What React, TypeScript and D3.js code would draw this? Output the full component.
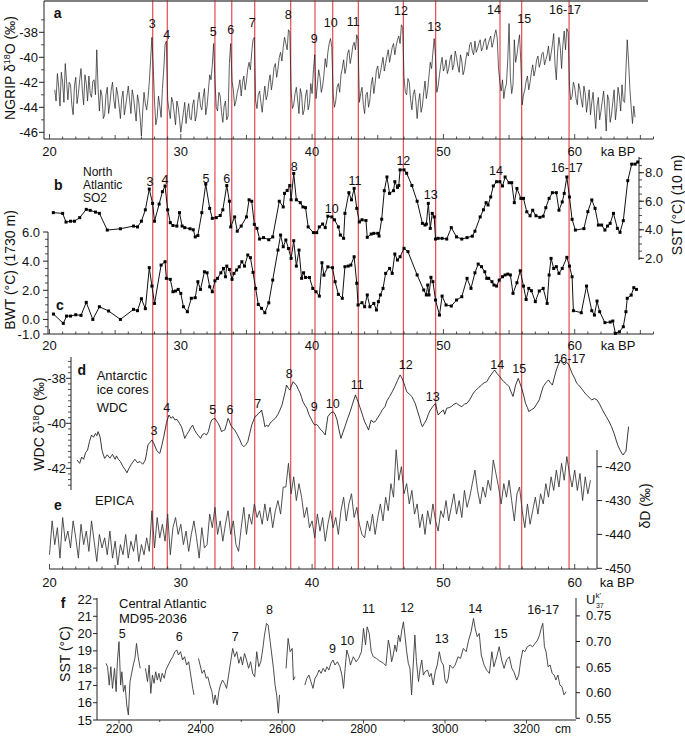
import React from 'react';
import * as d3 from 'd3';

const W = 685, H = 736;
const FONT = "'Liberation Sans', Arial, Helvetica, sans-serif";

// ---------- DATA ----------
const EVENTS = ['3', '4', '5', '6', '7', '8', '9', '10', '11', '12', '13', '14', '15', '16-17'];
const EVENT_AGES = [27.86, 28.97, 32.6, 33.88, 35.63, 38.37, 40.22, 41.57, 43.52, 46.95, 49.41, 54.31, 55.96, 59.57];
const AGE_TICKS = [20, 30, 40, 50, 60];

// NGRIP d18O, evenly sampled from 20.4 ka every 0.1 ka (rows of 20 = 2 ka)
const NGRIP_START = 20.4, NGRIP_STEP = 0.1;
const NGRIP_D18O = [
  -42.6, -43.5, -41.3, -42.4, -43.9, -41.2, -42.0, -43.6, -40.5, -41.9, -43.4, -42.0, -42.2, -43.8, -44.6, -42.3, -41.6, -43.7, -42.9, -41.8,
  -40.9, -42.6, -43.8, -41.4, -42.1, -43.5, -41.5, -42.9, -43.2, -41.9, -41.8, -43.0, -39.4, -42.5, -44.3, -42.6, -43.1, -44.9, -44.6, -43.0,
  -42.4, -44.5, -43.7, -42.6, -42.0, -43.4, -44.1, -42.4, -43.0, -43.9, -44.9, -43.3, -42.7, -44.6, -43.9, -43.1, -42.3, -43.4, -44.5, -42.6,
  -43.2, -44.2, -45.1, -43.0, -43.6, -44.8, -46.3, -44.3, -42.8, -43.7, -44.2, -43.3, -42.0, -40.2, -38.4, -40.8, -43.6, -45.4, -44.8, -43.1,
  -43.9, -44.8, -42.5, -41.0, -39.0, -38.7, -43.4, -44.2, -44.9, -43.2, -43.6, -44.5, -45.4, -43.5, -44.0, -44.9, -46.0, -45.2, -44.4, -43.6,
  -45.3, -44.4, -43.7, -44.9, -45.0, -43.8, -43.4, -45.1, -44.6, -43.5, -42.8, -43.9, -44.2, -43.2, -42.5, -44.6, -43.9, -42.7, -41.4, -41.8,
  -40.6, -38.9, -41.8, -44.0, -44.3, -42.8, -43.1, -44.4, -45.2, -43.9, -43.5, -45.0, -44.7, -40.5, -38.9, -41.9, -42.6, -43.9, -43.5, -42.8,
  -42.4, -41.8, -43.1, -42.0, -41.5, -42.6, -41.9, -40.9, -40.4, -41.0, -39.6, -38.6, -38.4, -43.5, -44.1, -43.0, -42.7, -43.6, -44.4, -43.2,
  -42.3, -43.4, -43.0, -42.0, -41.4, -42.6, -41.9, -40.8, -40.5, -41.6, -40.9, -40.0, -39.6, -40.3, -39.2, -38.4, -38.9, -39.4, -37.8, -38.0,
  -42.6, -44.1, -43.8, -42.9, -42.4, -43.4, -44.5, -42.5, -43.0, -44.6, -44.2, -43.1, -42.6, -44.2, -43.7, -42.1, -42.9, -41.0, -39.8, -43.3,
  -42.2, -41.0, -41.6, -42.8, -42.3, -41.4, -40.1, -40.8, -39.6, -38.9, -38.5, -39.2, -42.9, -44.0, -43.5, -42.4, -42.1, -42.8, -41.4, -40.9,
  -40.2, -41.3, -40.8, -39.7, -39.4, -40.5, -39.9, -39.1, -38.8, -39.4, -38.2, -38.6, -43.6, -42.9, -42.4, -43.8, -44.5, -43.0, -42.8, -44.0,
  -43.4, -42.2, -41.6, -42.9, -42.1, -41.0, -40.7, -41.7, -41.2, -40.6, -40.0, -41.1, -40.5, -39.9, -39.4, -40.4, -39.8, -39.2, -38.9, -39.8,
  -39.1, -38.6, -38.3, -38.9, -37.4, -37.6, -41.6, -42.8, -43.0, -41.7, -42.0, -43.4, -44.2, -43.0, -42.6, -43.5, -44.9, -43.6, -42.9, -44.4,
  -43.9, -42.8, -41.9, -43.3, -42.6, -41.5, -40.4, -40.9, -39.6, -38.5, -40.0, -42.8, -42.3, -41.4, -40.6, -40.0, -41.1, -40.8, -40.2, -41.3,
  -40.9, -40.2, -39.8, -41.0, -40.6, -39.5, -40.0, -40.7, -41.2, -39.8, -40.3, -41.4, -41.0, -40.2, -39.6, -39.9, -39.0, -38.8, -39.5, -39.8,
  -38.7, -39.6, -39.3, -38.9, -38.6, -39.5, -39.2, -38.7, -38.5, -39.4, -39.0, -38.6, -38.3, -39.2, -38.8, -38.2, -37.8, -38.5, -40.9, -42.0,
  -42.7, -41.8, -43.3, -42.5, -42.1, -40.2, -37.3, -41.6, -42.9, -42.2, -38.6, -40.4, -39.8, -38.9, -38.2, -40.5, -43.8, -43.0, -42.6, -41.9,
  -41.5, -42.6, -42.0, -41.2, -40.6, -41.5, -41.0, -40.2, -39.9, -40.8, -40.4, -39.7, -39.6, -40.6, -40.2, -39.8, -39.1, -40.3, -39.7, -39.0,
  -38.1, -40.6, -41.8, -39.5, -38.4, -39.2, -40.9, -39.0, -37.9, -39.4, -37.7, -38.0, -42.3, -43.4, -43.1, -42.0, -42.4, -43.3, -43.8, -42.1,
  -42.6, -43.4, -44.0, -42.3, -42.9, -44.4, -43.5, -42.6, -44.6, -43.6, -42.8, -44.4, -45.7, -43.9, -43.2, -45.0, -44.3, -43.5, -42.7, -44.1,
  -45.9, -43.0, -43.4, -45.2, -44.6, -43.6, -42.6, -45.0, -44.0, -42.4, -43.1, -44.3, -42.2, -43.5, -43.6, -41.0, -38.6, -40.3, -42.5, -44.0,
  -45.3, -43.9, -44.8,
];

// North Atlantic SO2 SST (10 m), [ka, degC]
const SO2_SST: [number, number][] = [
  [20.29, 5.2], [21.0, 5.15], [21.26, 4.54], [21.6, 4.6], [21.9, 4.6], [22.3, 4.85], [22.8, 5.43], [23.1, 5.36],
  [23.5, 5.24], [23.8, 5.15], [24.4, 3.98], [25.4, 4.07], [26.4, 4.26], [26.7, 4.2], [27.0, 4.6], [27.3, 5.4],
  [27.6, 6.85], [27.85, 5.85], [28.0, 4.6], [28.35, 5.8], [28.6, 6.67], [28.8, 7.07], [29.0, 5.4], [29.2, 4.5],
  [29.4, 4.3], [29.7, 4.26], [29.9, 5.2], [30.1, 4.26], [30.3, 4.15], [30.7, 4.07], [30.95, 4.0], [31.1, 3.5],
  [31.3, 3.6], [31.6, 5.2], [31.9, 7.2], [32.2, 5.5], [32.4, 4.8], [32.7, 4.85], [33.0, 5.0], [33.2, 5.4],
  [33.5, 7.1], [33.7, 6.0], [33.8, 4.2], [34.1, 4.9], [34.3, 3.9], [34.6, 4.26], [35.0, 4.9], [35.2, 6.1],
  [35.4, 6.0], [35.6, 4.38], [35.8, 4.1], [36.0, 3.35], [36.3, 3.45], [36.7, 3.3], [37.0, 3.5], [37.5, 6.0],
  [37.8, 5.6], [37.9, 6.55], [38.1, 6.75], [38.3, 7.1], [38.4, 6.1], [38.6, 7.95], [38.8, 6.1], [39.1, 5.9],
  [39.3, 5.6], [39.5, 5.55], [39.7, 4.2], [40.1, 3.8], [40.35, 3.8], [40.55, 4.2], [40.8, 4.4], [41.0, 4.15],
  [41.2, 4.95], [41.5, 4.9], [41.7, 4.7], [42.0, 4.2], [42.15, 3.63], [42.4, 3.4], [42.5, 5.15], [42.8, 6.6],
  [43.0, 6.1], [43.2, 6.9], [43.4, 5.5], [43.6, 4.55], [43.8, 4.7], [44.1, 4.65], [44.2, 3.47], [44.5, 3.7],
  [44.7, 3.75], [45.0, 3.75], [45.1, 3.56], [45.3, 4.74], [45.5, 6.74], [45.7, 7.7], [45.9, 6.55], [46.2, 6.74],
  [46.3, 7.37], [46.5, 6.97], [46.6, 7.1], [46.7, 8.2], [47.0, 8.2], [47.2, 7.96], [47.6, 7.1], [48.0, 6.0],
  [48.4, 4.45], [48.6, 4.33], [48.7, 4.4], [48.85, 5.85], [49.0, 4.1], [49.15, 5.15], [49.3, 4.9], [49.4, 3.35],
  [49.6, 3.4], [49.9, 3.4], [50.25, 3.35], [50.6, 4.15], [51.0, 3.5], [51.4, 3.35], [51.8, 3.45], [52.2, 3.55],
  [52.4, 3.9], [52.8, 4.9], [53.05, 5.4], [53.25, 5.9], [53.4, 5.74], [53.6, 6.3], [53.8, 7.07], [54.05, 7.37],
  [54.3, 7.37], [54.5, 7.07], [54.7, 7.7], [55.0, 7.3], [55.2, 7.3], [55.4, 5.9], [55.6, 6.9], [55.9, 6.2],
  [56.1, 6.2], [56.35, 5.26], [56.6, 4.98], [56.8, 5.37], [57.05, 4.98], [57.35, 4.87], [57.6, 4.95], [57.8, 5.55],
  [58.05, 6.2], [58.3, 6.6], [58.6, 6.6], [58.8, 5.37], [59.05, 5.95], [59.2, 6.55], [59.4, 7.7], [59.6, 6.3],
  [59.8, 4.73], [60.05, 3.98], [60.7, 4.08], [61.0, 5.27], [61.3, 6.09], [61.55, 5.5], [61.8, 4.33], [62.05, 4.33],
  [62.3, 3.98], [62.5, 4.26], [62.7, 4.45], [62.95, 5.15], [63.25, 4.1], [63.45, 3.82], [63.7, 4.64], [64.04, 7.44],
  [64.34, 8.6], [64.6, 8.6], [64.8, 8.75],
];

// SO2 bottom water temperature (1730 m), [ka, degC]
const SO2_BWT: [number, number][] = [
  [20.3, 0.37], [21.05, -0.27], [21.3, 0.23], [21.6, 0.23], [22.0, 0.32], [22.4, 0.28], [22.8, 1.17], [23.3, 0.0],
  [23.8, 0.87], [24.5, 0.58], [25.4, 0.0], [26.4, 0.69], [26.7, 0.6], [27.0, 1.42], [27.3, 0.74], [27.6, 3.55],
  [27.8, 2.29], [28.0, 1.1], [28.5, 3.73], [28.8, 3.96], [28.9, 2.82], [29.2, 2.75], [29.4, 1.9], [29.6, 1.95],
  [29.8, 2.06], [30.0, 1.79], [30.2, 0.87], [30.5, 0.53], [30.8, 1.45], [31.1, 1.49], [31.3, 2.59], [31.5, 2.06],
  [31.8, 3.27], [32.0, 3.2], [32.2, 2.24], [32.4, 1.9], [32.6, 2.65], [32.8, 2.82], [33.05, 3.2], [33.25, 3.5],
  [33.4, 2.93], [33.5, 3.66], [33.7, 3.43], [33.9, 2.75], [34.05, 3.16], [34.25, 3.39], [34.45, 3.61], [34.65, 3.96],
  [34.85, 3.66], [35.1, 4.42], [35.3, 4.24], [35.5, 3.23], [35.7, 2.13], [35.9, 1.03], [36.15, 0.76], [36.4, 0.46],
  [36.7, 1.14], [37.0, 2.7], [37.4, 4.76], [37.6, 5.79], [37.8, 4.99], [38.0, 5.45], [38.2, 4.87], [38.4, 4.19],
  [38.6, 5.4], [38.8, 3.66], [39.0, 4.76], [39.2, 2.82], [39.35, 3.2], [39.5, 2.88], [39.8, 2.88], [40.05, 2.13],
  [40.3, 1.9], [40.55, 1.6], [40.75, 3.89], [40.9, 3.04], [41.2, 3.61], [41.55, 3.55], [41.75, 2.59], [42.0, 1.72],
  [42.3, 1.45], [42.5, 3.62], [42.75, 3.66], [42.95, 3.73], [43.2, 4.3], [43.4, 2.48], [43.5, 0.99], [43.8, 1.15],
  [44.0, 0.87], [44.2, 1.68], [44.4, 0.87], [44.7, 1.1], [44.9, 0.65], [45.05, 1.22], [45.2, 1.68], [45.4, 2.13],
  [45.6, 3.16], [45.9, 3.5], [46.1, 3.16], [46.3, 4.49], [46.5, 4.08], [46.7, 4.3], [47.0, 4.88], [47.3, 4.65],
  [48.0, 3.05], [48.5, 2.02], [48.7, 1.68], [48.8, 2.36], [48.9, 1.68], [49.05, 2.89], [49.2, 2.59], [49.4, 1.33],
  [49.7, 0.3], [49.9, 1.6], [50.2, 0.99], [50.6, 0.92], [51.0, 1.33], [51.4, 1.56], [51.8, 2.82], [52.1, 2.13],
  [52.4, 3.2], [52.65, 3.8], [52.9, 3.62], [53.15, 3.27], [53.3, 2.82], [53.45, 2.82], [53.7, 2.59], [53.85, 2.36],
  [54.05, 2.29], [54.25, 2.7], [54.5, 2.93], [54.7, 3.05], [54.9, 3.11], [55.1, 3.05], [55.3, 1.79], [55.6, 2.52],
  [55.85, 3.34], [56.1, 2.29], [56.3, 1.37], [56.5, 2.13], [56.7, 1.97], [57.0, 1.22], [57.3, 1.95], [57.6, 2.13],
  [57.9, 1.1], [58.05, 3.05], [58.2, 4.19], [58.4, 3.5], [58.6, 3.62], [58.8, 3.16], [59.05, 3.5], [59.4, 4.26],
  [59.6, 3.66], [59.8, 2.93], [59.9, 0.6], [60.5, 0.46], [60.9, 2.29], [61.3, 0.6], [61.5, 0.3], [61.7, 1.26],
  [61.9, 0.53], [62.3, -0.22], [62.7, -0.18], [62.9, -0.11], [63.1, -0.96], [63.4, -0.85], [63.7, -0.5], [63.9, 0.53],
  [64.0, 1.45], [64.3, 1.67], [64.5, 2.18], [64.7, 2.06],
];

// WDC d18O, [ka, permil]
const WDC_D18O: [number, number][] = [
  [22.1, -41.63], [22.3, -41.78], [22.45, -41.5], [22.6, -41.6], [22.75, -41.3], [22.9, -41.19], [23.05, -40.8], [23.2, -40.52],
  [23.35, -40.62], [23.5, -40.45], [23.6, -40.55], [23.7, -40.37], [23.85, -40.6], [24.0, -41.2], [24.1, -41.4], [24.2, -41.56],
  [24.4, -41.4], [24.6, -41.55], [24.8, -41.38], [25.0, -41.6], [25.1, -41.45], [25.25, -41.6], [25.4, -41.7], [25.6, -41.93],
  [25.75, -42.05], [25.9, -42.2], [26.05, -42.0], [26.2, -41.85], [26.35, -41.72], [26.5, -41.6], [26.7, -41.75], [26.9, -41.7],
  [27.1, -41.82], [27.3, -41.63], [27.4, -41.3], [27.5, -40.96], [27.65, -40.85], [27.8, -40.74], [27.95, -40.9], [28.15, -41.19],
  [28.3, -41.3], [28.4, -41.34], [28.55, -41.0], [28.7, -40.6], [28.8, -40.3], [28.9, -40.0], [29.0, -39.8], [29.1, -39.63],
  [29.25, -39.78], [29.4, -39.7], [29.55, -39.85], [29.7, -39.82], [29.9, -40.0], [30.05, -40.15], [30.2, -40.45], [30.3, -40.67],
  [30.45, -40.5], [30.6, -40.37], [30.75, -40.2], [30.9, -40.08], [31.05, -40.3], [31.2, -40.45], [31.35, -40.55], [31.5, -40.67],
  [31.65, -40.5], [31.8, -40.45], [31.95, -40.52], [32.1, -40.37], [32.25, -40.0], [32.35, -39.85], [32.5, -39.8], [32.6, -39.78],
  [32.75, -39.92], [32.85, -40.0], [33.0, -40.2], [33.1, -40.37], [33.25, -40.32], [33.35, -40.3], [33.5, -40.0], [33.6, -39.78],
  [33.7, -39.9], [33.8, -40.08], [33.95, -40.2], [34.1, -40.3], [34.3, -40.5], [34.5, -40.74], [34.65, -40.95], [34.8, -41.04],
  [34.95, -40.95], [35.1, -40.82], [35.25, -40.45], [35.4, -40.08], [35.55, -39.85], [35.65, -39.7], [35.8, -39.65], [35.9, -39.56],
  [36.05, -39.5], [36.15, -39.41], [36.3, -39.8], [36.4, -40.15], [36.55, -40.08], [36.65, -40.15], [36.8, -40.0], [36.9, -39.93],
  [37.05, -39.85], [37.2, -39.78], [37.4, -39.6], [37.55, -39.41], [37.7, -39.2], [37.8, -38.96], [37.95, -38.6], [38.05, -38.3],
  [38.2, -38.45], [38.3, -38.52], [38.45, -38.3], [38.55, -38.15], [38.7, -38.25], [38.8, -38.3], [38.95, -38.5], [39.1, -38.67],
  [39.2, -38.85], [39.3, -39.04], [39.45, -39.2], [39.6, -39.33], [39.75, -39.6], [39.9, -39.78], [40.05, -39.95], [40.2, -40.08],
  [40.35, -40.05], [40.5, -40.15], [40.6, -40.25], [40.7, -40.3], [40.85, -40.4], [41.0, -40.52], [41.1, -40.1], [41.2, -39.7],
  [41.4, -39.55], [41.6, -39.48], [41.75, -39.6], [41.9, -39.85], [42.05, -40.3], [42.2, -40.67], [42.35, -40.4], [42.5, -40.15],
  [42.7, -39.8], [42.9, -39.48], [43.1, -39.1], [43.3, -38.74], [43.4, -38.9], [43.5, -39.04], [43.65, -39.3], [43.8, -39.56],
  [43.9, -39.75], [44.0, -39.93], [44.15, -40.1], [44.3, -40.3], [44.4, -40.05], [44.5, -39.85], [44.65, -39.95], [44.8, -39.93],
  [45.0, -39.75], [45.2, -39.56], [45.35, -39.4], [45.55, -39.26], [45.7, -39.0], [45.9, -38.81], [46.1, -38.6], [46.3, -38.37],
  [46.5, -38.1], [46.7, -37.85], [46.85, -38.0], [46.95, -38.15], [47.1, -38.4], [47.2, -38.59], [47.4, -38.7], [47.6, -38.81],
  [47.75, -39.0], [47.85, -39.11], [48.0, -39.4], [48.2, -39.78], [48.3, -40.0], [48.4, -40.15], [48.55, -40.0], [48.7, -39.85],
  [48.85, -39.6], [49.0, -39.41], [49.2, -39.25], [49.4, -39.11], [49.5, -39.4], [49.6, -39.63], [49.8, -39.5], [50.0, -39.41],
  [50.1, -39.6], [50.25, -39.33], [50.45, -39.3], [50.6, -39.26], [50.8, -39.15], [51.0, -39.11], [51.2, -39.2], [51.4, -39.26],
  [51.6, -39.15], [51.8, -39.11], [52.0, -38.95], [52.2, -38.74], [52.35, -38.6], [52.5, -38.52], [52.7, -38.4], [52.9, -38.3],
  [53.1, -38.2], [53.3, -38.15], [53.5, -37.95], [53.7, -37.78], [53.8, -37.7], [53.9, -37.63], [54.1, -37.8], [54.3, -37.93],
  [54.45, -38.05], [54.6, -38.15], [54.8, -38.25], [55.0, -38.37], [55.15, -38.6], [55.3, -38.81], [55.5, -38.3], [55.7, -38.0],
  [55.85, -38.25], [56.0, -38.52], [56.15, -38.85], [56.25, -39.11], [56.4, -39.3], [56.5, -39.48], [56.7, -39.4], [56.9, -39.33],
  [57.1, -39.15], [57.3, -38.96], [57.45, -38.65], [57.6, -38.37], [57.8, -38.2], [58.0, -38.07], [58.15, -38.2], [58.3, -38.3],
  [58.45, -37.95], [58.6, -37.63], [58.75, -37.4], [58.9, -37.19], [59.05, -37.3], [59.2, -37.41], [59.35, -37.3], [59.5, -37.34],
  [59.65, -37.55], [59.8, -37.78], [60.0, -38.0], [60.15, -38.22], [60.3, -38.3], [60.5, -38.44], [60.7, -38.6], [60.9, -38.74],
  [61.1, -38.85], [61.3, -38.96], [61.5, -38.9], [61.7, -38.96], [61.9, -39.15], [62.05, -39.33], [62.2, -39.5], [62.4, -39.7],
  [62.6, -39.9], [62.8, -40.15], [63.0, -40.45], [63.15, -40.74], [63.3, -41.0], [63.45, -41.19], [63.6, -41.35], [63.7, -41.41],
  [63.8, -41.3], [63.9, -41.26], [64.0, -40.7], [64.1, -40.15],
];

// EPICA dD, evenly sampled from 20.0 ka every 0.2 ka (rows of 10 = 2 ka)
const EPICA_START = 20.0, EPICA_STEP = 0.2;
const EPICA_DD = [
  -446, -436, -443, -438, -447, -435, -442, -439, -444, -436,
  -441, -447, -437, -443, -439, -445, -436, -442, -448, -440,
  -444, -441, -446, -439, -447, -442, -449, -443, -446, -440,
  -447, -442, -445, -440, -448, -443, -446, -441, -445, -433,
  -444, -435, -441, -437, -442, -434, -446, -438, -435, -440,
  -437, -443, -439, -445, -440, -436, -441, -447, -438, -444,
  -443, -434, -438, -432, -440, -436, -442, -437, -433, -440,
  -436, -443, -445, -438, -432, -440, -434, -437, -431, -435,
  -433, -437, -431, -436, -432, -438, -433, -430, -434, -426,
  -426, -419, -428, -423, -430, -425, -429, -435, -432, -438,
  -436, -441, -434, -439, -435, -442, -437, -433, -438, -435,
  -440, -433, -429, -436, -431, -428, -435, -432, -437, -440,
  -441, -436, -439, -434, -440, -435, -431, -436, -429, -433,
  -425, -429, -415, -424, -420, -428, -425, -431, -427, -434,
  -431, -438, -434, -440, -433, -437, -431, -436, -439, -433,
  -435, -430, -436, -432, -428, -434, -430, -435, -427, -432,
  -429, -425, -421, -427, -431, -426, -429, -424, -427, -418,
  -422, -426, -431, -425, -429, -424, -430, -436, -428, -426,
  -433, -438, -431, -437, -433, -429, -434, -428, -431, -425,
  -429, -423, -427, -421, -426, -419, -424, -417, -422, -426,
  -421, -427, -422, -430, -423, -428, -424,
];

// Central Atlantic MD95-2036 SST vs depth [cm, degC]; null = gap
const MD95_SST: [number, number | null][] = [
  [2168, 18.28], [2172, 18.08], [2176, 17.02], [2180, 18.08], [2184, 16.83], [2189, 17.99], [2193, 16.64], [2196, 18.37],
  [2200, 19.53], [2204, 17.02], [2207, 17.79], [2211, 16.64], [2215, 17.02], [2219, 15.87], [2223, 15.29], [2227, 17.22],
  [2231, 17.7], [2235, 18.18], [2239, 18.56], [2243, 19.43], [2247, 18.66], [2252, 17.99], [2258, null],
  [2265, 17.99], [2270, 17.22], [2274, 18.18], [2278, 16.54], [2282, 17.6], [2286, 17.12], [2290, 17.79], [2294, 17.31],
  [2298, 17.7], [2302, 17.22], [2306, 17.7], [2311, 17.41], [2315, 17.89], [2321, 18.18], [2327, 18.47], [2332, 18.66],
  [2337, 18.95], [2342, 19.05], [2346, 18.76], [2351, 18.95], [2356, 18.47], [2361, 18.66], [2366, 18.18], [2371, 18.37],
  [2376, 17.6], [2381, 16.83], [2384, 16.45], [2390, null],
  [2395, 18.56], [2399, 18.18], [2404, 17.7], [2409, 17.89], [2414, 17.41], [2418, 17.5], [2423, 17.02], [2428, 16.64],
  [2432, 15.96], [2436, 16.45], [2441, 15.87], [2445, 16.64], [2449, 17.02], [2454, 17.31], [2459, 17.12], [2464, 16.83],
  [2469, 17.6], [2474, 18.37], [2479, 19.14], [2484, 18.66], [2489, 18.95], [2494, 18.28], [2499, 18.66], [2503, 18.18],
  [2508, 18.85], [2513, 18.47], [2518, 17.99], [2523, 18.37], [2528, 17.7], [2533, 17.5], [2538, 18.95], [2543, 18.08],
  [2548, 18.37], [2553, 19.14], [2557, 19.91], [2562, 20.59], [2566, 20.49], [2571, 19.53], [2575, 18.76], [2579, 17.99],
  [2583, 17.02], [2587, 16.45], [2591, 15.39], [2594, 16.45], [2600, null],
  [2610, 17.99], [2615, 19.72], [2620, 18.95], [2625, 19.14], [2628, 17.31], [2632, 17.5], [2640, null],
  [2656, 17.02], [2661, 17.41], [2666, 17.6], [2671, 17.22], [2676, 16.83], [2681, 17.41], [2686, 17.6], [2691, 17.89],
  [2696, 17.7], [2701, 17.99], [2706, 17.79], [2710, 18.08], [2715, 17.89], [2720, 18.28], [2725, 18.47], [2730, 18.18],
  [2736, 18.37], [2742, 18.08], [2747, 17.6], [2751, 16.83], [2755, 17.99], [2759, 19.05], [2764, 18.66], [2768, 18.18],
  [2775, 18.66], [2782, 18.37], [2788, 18.56], [2795, 18.95], [2800, 20.3], [2805, 19.34], [2809, 20.39], [2814, 20.01],
  [2819, 18.95], [2824, 18.66], [2832, 18.56], [2840, 18.41], [2849, 18.28], [2855, 18.14], [2861, 19.62], [2865, 19.14],
  [2869, 18.37], [2873, 18.76], [2877, 19.34], [2881, 18.95], [2886, 19.91], [2890, 19.53], [2894, 20.2], [2898, 20.68],
  [2902, 19.82], [2906, 18.95], [2910, 18.28], [2914, 17.99], [2918, 16.45], [2922, 18.18], [2926, 19.91], [2930, 18.37],
  [2935, 17.22], [2939, 17.99], [2943, 18.47], [2947, 17.6], [2951, 17.79], [2957, 17.89], [2962, 17.5], [2966, 17.7],
  [2971, 17.02], [2976, 17.79], [2981, 18.18], [2986, 18.95], [2991, 18.37], [2996, 18.18], [3000, 17.31], [3004, 17.12],
  [3008, 17.41], [3012, 18.18], [3019, 17.99], [3025, 18.18], [3032, 18.66], [3038, 18.56], [3045, 19.14], [3052, 18.95],
  [3058, 19.62], [3064, 20.1], [3070, 20.88], [3074, 20.3], [3079, 19.82], [3084, 20.01], [3089, 18.76], [3096, 18.18],
  [3102, 17.89], [3109, 17.7], [3115, 18.95], [3120, 18.08], [3127, 18.66], [3133, 19.24], [3139, 18.47], [3145, 17.99],
  [3151, 18.47], [3158, 18.66], [3164, 17.99], [3169, 17.79], [3176, 17.31], [3181, 17.6], [3186, 18.47], [3191, 19.05],
  [3196, 18.95], [3202, 19.24], [3209, 19.34], [3215, 19.24], [3221, 19.43], [3227, 19.62], [3232, 19.91], [3236, 20.3],
  [3240, 20.59], [3244, 19.24], [3248, 18.95], [3253, 18.08], [3258, 18.18], [3263, 17.7], [3268, 17.6], [3272, 17.31],
  [3277, 17.6], [3282, 17.02], [3287, 16.93], [3292, 16.45], [3297, 16.64],
];
const MD95_EVENTS = ['5', '6', '7', '8', '9', '10', '11', '12', '13', '14', '15', '16-17'];
const MD95_EVENT_DEPTHS = [2208, 2348, 2485, 2569, 2724, 2760, 2812, 2907, 2992, 3074, 3137, 3241];

// ---------- LAYOUT (label placement, px) ----------
const LBL_A = { dx: [-0.4, -0.6, -1.7, -1, -2.4, -2.4, -0.7, -2, -5, -2.3, -1.4, -6, 2.6, -4], y: [23.3, 34.3, 31.7, 29.3, 22.7, 15, 38.3, 22.7, 21.7, 10.7, 26.7, 10, 18.3, 10] };
const LBL_B = { idx: [0, 1, 2, 3, 5, 7, 8, 9, 10, 11, 13], dx: [-2.7, -2.3, -9, -5, 3.6, -1, -3.3, 0, -5, -4, -2.3], y: [181.7, 180, 178.3, 178.3, 166.7, 208.3, 180.7, 160.5, 194.3, 170.7, 167.3] };
const LBL_D = { dx: [1.3, -0.6, -2.3, -1.7, 3, -1.4, -0.7, 0, -1, 2.4, -3, -2.7, -2.4, 0.3], y: [431, 407.3, 410, 410, 403.3, 374, 406.7, 403.3, 385, 364.3, 396.7, 365, 369, 359] };
const LBL_F_Y = [633.3, 636.7, 636.7, 610, 648.3, 641, 609, 607.7, 639, 609, 633.3, 610];

// ---------- SCALES ----------
const x = d3.scaleLinear().domain([20, 66]).range([49.5, 653.5]);
const yA = d3.scaleLinear().domain([-46, -38]).range([132.3, 32.3]);
const yB = d3.scaleLinear().domain([2, 8]).range([258.3, 172.7]);
const yC = d3.scaleLinear().domain([-1, 6]).range([334, 232]);
const yD = d3.scaleLinear().domain([-42, -38]).range([468.3, 378.3]);
const yE = d3.scaleLinear().domain([-450, -420]).range([568.3, 466.7]);
const xF = d3.scaleLinear().domain([2200, 3200]).range([119, 526.5]);
const yF = d3.scaleLinear().domain([15, 22]).range([720, 599]);
const yFR = d3.scaleLinear().domain([0.55, 0.75]).range([718.3, 615.9]);

const AX = '#222';

function AgeAxis({ y, x0, x1, maxAge, labelY, kaX }: { y: number; x0: number; x1: number; maxAge: number; labelY: number; kaX: number }) {
  const minor = d3.range(20, maxAge + 0.001, 1);
  return (
    <g>
      <line x1={x0} x2={x1} y1={y} y2={y} stroke={AX} strokeWidth={1} />
      {minor.map((a) => {
        const len = a % 10 === 0 ? 5 : a % 5 === 0 ? 4 : 2.5;
        return <line key={a} x1={x(a)} x2={x(a)} y1={y} y2={y - len} stroke={AX} strokeWidth={0.8} />;
      })}
      {AGE_TICKS.filter((a) => a <= maxAge).map((a) => (
        <text key={a} x={x(a)} y={labelY} textAnchor="middle" dy="0.35em" fontSize={13}>{a}</text>
      ))}
      <text x={kaX} y={labelY} textAnchor="middle" dy="0.35em" fontSize={13}>ka BP</text>
    </g>
  );
}

function VAxis({ ax, scale, y0, y1, major, minor, side, fmt, labelX, majorLen = 5, minorLen = 3, fontSize = 13 }: any) {
  const dir = side === 'left' ? -1 : 1;
  return (
    <g>
      <line x1={ax} x2={ax} y1={y0} y2={y1} stroke={AX} strokeWidth={1} />
      {minor.map((v: number, i: number) => (
        <line key={'m' + i} x1={ax} x2={ax + dir * minorLen} y1={scale(v)} y2={scale(v)} stroke={AX} strokeWidth={0.8} />
      ))}
      {major.map((v: number, i: number) => (
        <g key={'M' + i}>
          <line x1={ax} x2={ax + dir * majorLen} y1={scale(v)} y2={scale(v)} stroke={AX} strokeWidth={1} />
          <text x={labelX} y={scale(v)} dy="0.35em" textAnchor={side === 'left' ? 'end' : 'start'} fontSize={fontSize}>{fmt(v)}</text>
        </g>
      ))}
    </g>
  );
}

function VTitle({ cx, cy, children, fontSize = 14 }: any) {
  return (
    <text transform={`translate(${cx},${cy}) rotate(-90)`} textAnchor="middle" dy="0.35em" fontSize={fontSize}>{children}</text>
  );
}

export default function App() {
  const ngrip: [number, number][] = NGRIP_D18O.map((v, i) => [NGRIP_START + i * NGRIP_STEP, v]);
  const epica: [number, number][] = EPICA_DD.map((v, i) => [EPICA_START + i * EPICA_STEP, v]);

  const lineA = d3.line<[number, number]>().x((d) => x(d[0])).y((d) => yA(d[1]));
  const lineB = d3.line<[number, number]>().x((d) => x(d[0])).y((d) => yB(d[1]));
  const lineC = d3.line<[number, number]>().x((d) => x(d[0])).y((d) => yC(d[1]));
  const lineD = d3.line<[number, number]>().x((d) => x(d[0])).y((d) => yD(d[1]));
  const lineE = d3.line<[number, number]>().x((d) => x(d[0])).y((d) => yE(d[1]));
  const lineF = d3.line<[number, number | null]>()
    .defined((d) => d[1] !== null)
    .x((d) => xF(d[0]))
    .y((d) => yF(d[1] as number));

  const fmt1 = (v: number) => v.toFixed(1);
  const fmt0 = (v: number) => String(v);
  const fmt2 = (v: number) => v.toFixed(2);

  return (
    <svg width={W} height={H} style={{ position: 'absolute', left: 0, top: 0, background: '#fff' }} fontFamily={FONT} fill="#111">
      <rect width={W} height={H} fill="#fff" />

      {/* red event lines */}
      {EVENT_AGES.map((a, i) => (
        <line key={i} x1={x(a)} x2={x(a)} y1={0} y2={569} stroke="#e2383c" strokeWidth={1.2} opacity={0.9} />
      ))}

      {/* ---------- Panel a ---------- */}
      <line x1={44} x2={648} y1={1} y2={1} stroke="#555" strokeWidth={1.6} />
      <VAxis ax={44} scale={yA} y0={1} y1={139} side="left" labelX={38}
        major={[-38, -40, -42, -44, -46]} minor={[-37, -39, -41, -43, -45]} fmt={fmt0} />
      <AgeAxis y={139} x0={44} x1={653.5} maxAge={66} labelY={151.7} kaX={618} />
      <path d={lineA(ngrip) || ''} fill="none" stroke="#1c1c1c" strokeWidth={0.7} strokeLinejoin="round" />
      <text x={57.7} y={12.7} dy="0.35em" textAnchor="middle" fontSize={14} fontWeight="bold">a</text>
      <VTitle cx={10} cy={68}>
        <tspan>NGRIP δ</tspan><tspan dy={-5} fontSize={9}>18</tspan><tspan dy={5}>O (‰)</tspan>
      </VTitle>
      {EVENTS.map((e, i) => (
        <text key={e} x={x(EVENT_AGES[i]) + LBL_A.dx[i]} y={LBL_A.y[i]} dy="0.35em" textAnchor="middle" fontSize={12.5}>{e}</text>
      ))}

      {/* ---------- Panel b ---------- */}
      <VAxis ax={639} scale={yB} y0={157} y1={260} side="right" labelX={645}
        major={[2, 4, 6, 8]} minor={d3.range(2, 9.01, 0.5)} fmt={fmt1} minorLen={3} majorLen={5} />
      <path d={lineB(SO2_SST) || ''} fill="none" stroke="#111" strokeWidth={1} />
      {SO2_SST.map((d, i) => (
        <rect key={i} x={x(d[0]) - 1.5} y={yB(d[1]) - 1.5} width={3} height={3} fill="#000" />
      ))}
      <text x={58.3} y={185} dy="0.35em" textAnchor="middle" fontSize={14} fontWeight="bold">b</text>
      <text x={83} y={172} dy="0.35em" fontSize={12}>North</text>
      <text x={83} y={184.8} dy="0.35em" fontSize={12}>Atlantic</text>
      <text x={83} y={197.6} dy="0.35em" fontSize={12}>SO2</text>
      <VTitle cx={677} cy={205}>SST (°C) (10 m)</VTitle>
      {LBL_B.idx.map((ei, k) => (
        <text key={ei} x={x(EVENT_AGES[ei]) + LBL_B.dx[k]} y={LBL_B.y[k]} dy="0.35em" textAnchor="middle" fontSize={12.5}>{EVENTS[ei]}</text>
      ))}

      {/* ---------- Panel c ---------- */}
      <VAxis ax={48} scale={yC} y0={232} y1={334} side="left" labelX={40}
        major={[6, 4, 2, 0, -1]} minor={d3.range(-0.5, 6, 0.5).filter((v) => v % 2 !== 0)} fmt={fmt1} />
      <AgeAxis y={334} x0={48} x1={653.5} maxAge={66} labelY={345} kaX={618} />
      <path d={lineC(SO2_BWT) || ''} fill="none" stroke="#111" strokeWidth={1} />
      {SO2_BWT.map((d, i) => (
        <rect key={i} x={x(d[0]) - 1.5} y={yC(d[1]) - 1.5} width={3} height={3} fill="#000" />
      ))}
      <text x={60} y={305} dy="0.35em" textAnchor="middle" fontSize={14} fontWeight="bold">c</text>
      <VTitle cx={10} cy={270}>BWT (°C) (1730 m)</VTitle>

      {/* ---------- Panel d ---------- */}
      <VAxis ax={71} scale={yD} y0={357} y1={490} side="left" labelX={66}
        major={[-38, -40, -42]} minor={d3.range(-42.75, -37, 0.25).filter((v) => Math.abs(v % 2) > 0.01)} fmt={fmt0} majorLen={5} minorLen={3} />
      <path d={lineD(WDC_D18O) || ''} fill="none" stroke="#222" strokeWidth={0.9} strokeLinejoin="round" />
      <text x={81.7} y={370} dy="0.35em" textAnchor="middle" fontSize={14} fontWeight="bold">d</text>
      <text x={96.7} y={375} dy="0.35em" fontSize={13}>Antarctic</text>
      <text x={96.7} y={389.3} dy="0.35em" fontSize={13}>ice cores</text>
      <text x={96.7} y={407.3} dy="0.35em" fontSize={13}>WDC</text>
      <VTitle cx={39} cy={424}>
        <tspan>WDC δ</tspan><tspan dy={-5} fontSize={9}>18</tspan><tspan dy={5}>O (‰)</tspan>
      </VTitle>
      {EVENTS.map((e, i) => (
        <text key={e} x={x(EVENT_AGES[i]) + LBL_D.dx[i]} y={LBL_D.y[i]} dy="0.35em" textAnchor="middle" fontSize={12.5}>{e}</text>
      ))}

      {/* ---------- Panel e ---------- */}
      <VAxis ax={597} scale={yE} y0={450} y1={568.3} side="right" labelX={605}
        major={[-420, -430, -440, -450]} minor={[]} fmt={fmt0} majorLen={5} />
      <AgeAxis y={569} x0={49.5} x1={597} maxAge={61} labelY={582} kaX={617} />
      <path d={lineE(epica) || ''} fill="none" stroke="#333" strokeWidth={0.85} strokeLinejoin="round" />
      <text x={58} y={505} dy="0.35em" textAnchor="middle" fontSize={14} fontWeight="bold">e</text>
      <text x={95} y={500} dy="0.35em" fontSize={13}>EPICA</text>
      <VTitle cx={645} cy={506}>δD (‰)</VTitle>

      {/* ---------- Panel f ---------- */}
      <VAxis ax={97} scale={yF} y0={598} y1={720} side="left" labelX={92}
        major={[15, 16, 17, 18, 19, 20, 21, 22]} minor={[]} fmt={fmt0} majorLen={4} />
      <line x1={97} x2={576} y1={720} y2={720} stroke={AX} strokeWidth={1} />
      {d3.range(2200, 3201, 100).map((c) => (
        <line key={c} x1={xF(c)} x2={xF(c)} y1={720} y2={c % 200 === 0 ? 723.5 : 722} stroke={AX} strokeWidth={0.8} />
      ))}
      {d3.range(2200, 3201, 200).map((c) => (
        <text key={c} x={xF(c)} y={729} dy="0.35em" textAnchor="middle" fontSize={12}>{c}</text>
      ))}
      <text x={563} y={729} dy="0.35em" textAnchor="middle" fontSize={12}>cm</text>
      <VAxis ax={576} scale={yFR} y0={598} y1={718.3} side="right" labelX={586}
        major={[0.55, 0.6, 0.65, 0.7, 0.75]} minor={[]} fmt={fmt2} majorLen={4} />
      <text x={586} y={604} fontSize={13}>U<tspan dy={-6} fontSize={8}>k'</tspan><tspan dy={10} dx={-5} fontSize={7}>37</tspan></text>
      <path d={lineF(MD95_SST) || ''} fill="none" stroke="#3a3a3a" strokeWidth={0.9} strokeLinejoin="round" />
      <text x={63} y={603} dy="0.35em" textAnchor="middle" fontSize={14} fontWeight="bold">f</text>
      <text x={119} y={603} dy="0.35em" fontSize={13}>Central Atlantic</text>
      <text x={119} y={618} dy="0.35em" fontSize={13}>MD95-2036</text>
      <VTitle cx={65} cy={654}>SST (°C)</VTitle>
      {MD95_EVENTS.map((e, i) => (
        <text key={e} x={xF(MD95_EVENT_DEPTHS[i])} y={LBL_F_Y[i]} dy="0.35em" textAnchor="middle" fontSize={12.5}>{e}</text>
      ))}
    </svg>
  );
}
